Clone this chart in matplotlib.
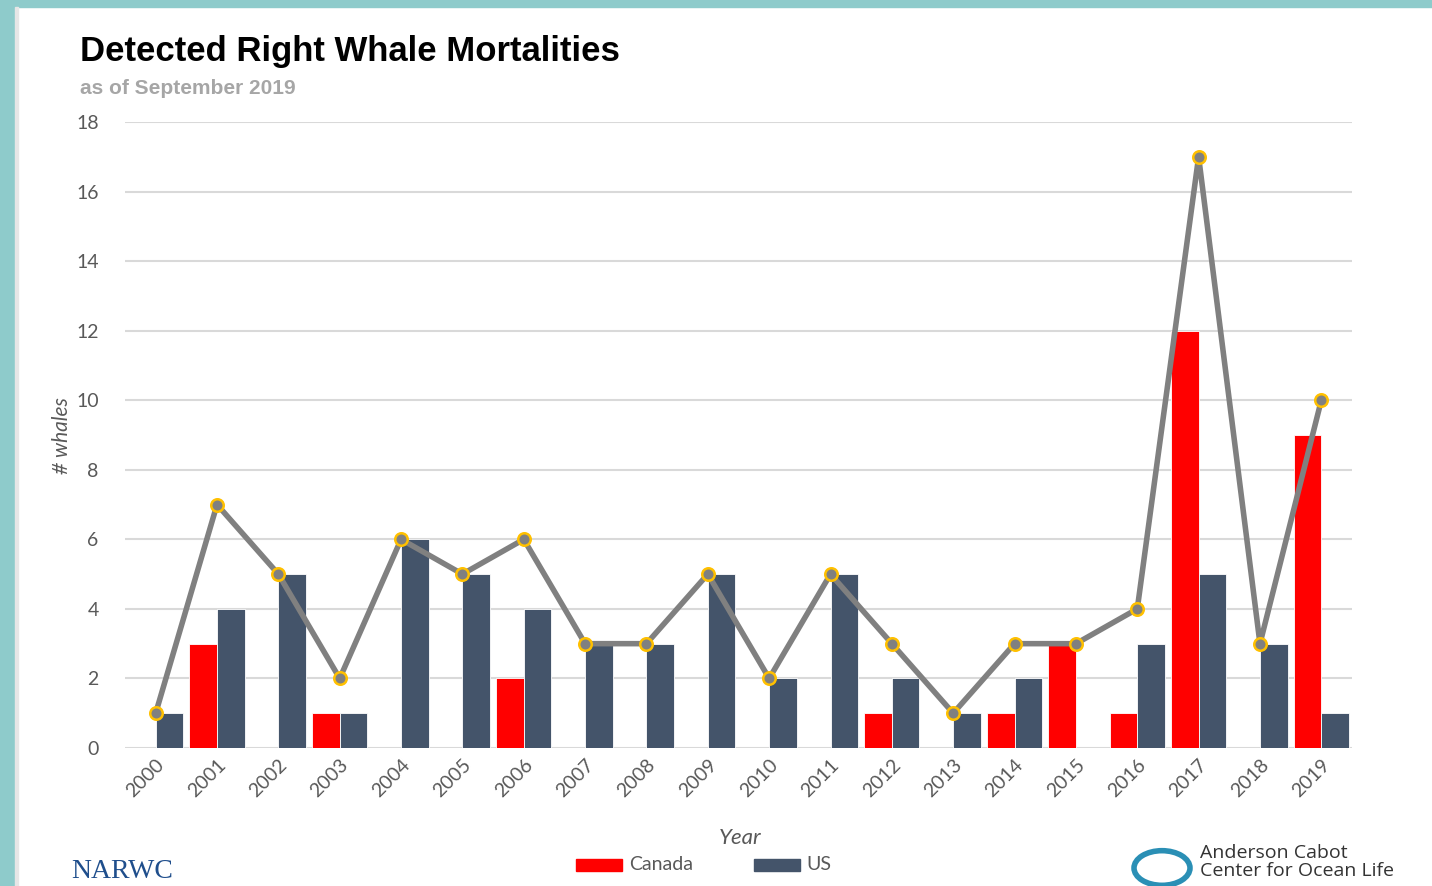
import matplotlib.pyplot as plt
import matplotlib.patches as mpatches
import numpy as np

years = [str(y) for y in range(2000, 2020)]
canada = [0, 3, 0, 1, 0, 0, 2, 0, 0, 0, 0, 0, 1, 0, 1, 3, 1, 12, 0, 9]
us = [1, 4, 5, 1, 6, 5, 4, 3, 3, 5, 2, 5, 2, 1, 2, 0, 3, 5, 3, 1]
total = [c + u for c, u in zip(canada, us)]
yticks = [0, 2, 4, 6, 8, 10, 12, 14, 16, 18]

red = "#FF0000"
navy = "#44546A"
gray_txt = "#595959"

fig = plt.figure(figsize=(14.32, 8.86), dpi=100)
fig.patch.set_facecolor("white")

# teal frame on the left and top
fig.patches.append(mpatches.Rectangle((0, 0), 15 / 1432, 1, transform=fig.transFigure,
                                      color="#8ECBCB", zorder=0))
fig.patches.append(mpatches.Rectangle((0, 1 - 7 / 886), 1, 7 / 886, transform=fig.transFigure,
                                      color="#8ECBCB", zorder=0))
fig.patches.append(mpatches.Rectangle((15 / 1432, 0), 3 / 1432, 1 - 7 / 886, transform=fig.transFigure,
                                      color="#E6E6E6", zorder=0))

ax = fig.add_axes([125 / 1432, 1 - 748 / 886, 1227 / 1432, 626 / 886])
x = np.arange(len(years))
w = 0.45
ax.bar(x - w / 2, canada, w, color=red, edgecolor="white", linewidth=0.6, zorder=2, label="Canada")
ax.bar(x + w / 2, us, w, color=navy, edgecolor="white", linewidth=0.6, zorder=2, label="US")
ax.plot(x, total, color="#808080", linewidth=4, zorder=3,
        marker="o", markersize=9, markerfacecolor="#808080",
        markeredgecolor="#FFC000", markeredgewidth=1.8)

ax.set_xlim(-0.5, len(years) - 0.5)
ax.set_ylim(0, 18)
ax.set_yticks(yticks)
ax.set_yticklabels([str(v) for v in yticks], fontsize=14, color=gray_txt, family="Lato")
ax.set_xticks(x)
ax.set_xticklabels(years, rotation=45, ha="right", va="top", rotation_mode="anchor",
                   fontsize=14, color=gray_txt, family="Lato")
ax.tick_params(axis="both", length=0)
ax.tick_params(axis="y", pad=19)
ax.tick_params(axis="x", pad=6)
ax.grid(axis="y", color="#D9D9D9", linewidth=1.5, zorder=0)
ax.set_axisbelow(True)
for s in ax.spines.values():
    s.set_visible(False)

fig.text(62 / 1432, 1 - 436 / 886, "# whales", rotation=90, ha="center", va="center",
         fontsize=15, style="italic", color=gray_txt, family="Lato")
fig.text(740 / 1432, 1 - 838 / 886, "Year", ha="center", va="center",
         fontsize=16, style="italic", color=gray_txt, family="Lato")

fig.text(80 / 1432, 1 - 52 / 886, "Detected Right Whale Mortalities", ha="left", va="center",
         fontsize=25, weight="bold", color="black", family="Liberation Sans")
fig.text(80 / 1432, 1 - 89 / 886, "as of September 2019", ha="left", va="center",
         fontsize=15, weight="bold", color="#A6A6A6", family="Liberation Sans")

# legend
fig.patches.append(mpatches.Rectangle((576 / 1432, 1 - 871 / 886), 46 / 1432, 12 / 886,
                                      transform=fig.transFigure, color=red))
fig.text(629 / 1432, 1 - 865 / 886, "Canada", ha="left", va="center",
         fontsize=14, color=gray_txt, family="Lato")
fig.patches.append(mpatches.Rectangle((754 / 1432, 1 - 871 / 886), 46 / 1432, 12 / 886,
                                      transform=fig.transFigure, color=navy))
fig.text(806 / 1432, 1 - 865 / 886, "US", ha="left", va="center",
         fontsize=14, color=gray_txt, family="Lato")

# logos (text stand-ins)
fig.text(122 / 1432, 1 - 871 / 886, "NARWC", ha="center", va="center",
         fontsize=20, color="#1F4E8C", family="Liberation Serif")
fig.text(1200 / 1432, 1 - 853 / 886, "Anderson Cabot", ha="left", va="center",
         fontsize=14, color="#333333", family="Open Sans")
fig.text(1200 / 1432, 1 - 871 / 886, "Center for Ocean Life", ha="left", va="center",
         fontsize=14, color="#333333", family="Open Sans")
fig.patches.append(mpatches.Circle((1162 / 1432, 1 - 868 / 886), 28 / 1432,
                                   transform=fig.transFigure, fill=False,
                                   edgecolor="#2A8FB5", linewidth=4))

fig.savefig("out.png", dpi=100)
